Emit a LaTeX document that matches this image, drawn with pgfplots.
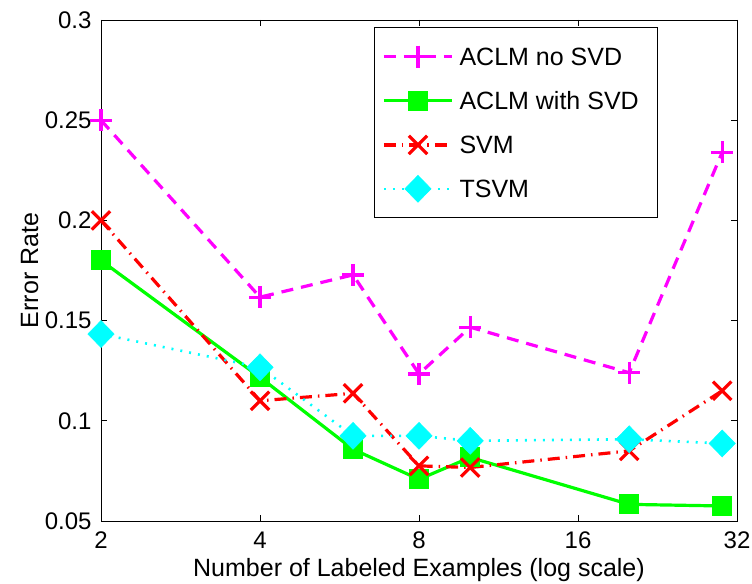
\documentclass[border=0pt]{standalone}
\usepackage{pgfplots}
\pgfplotsset{compat=1.18}
\usepackage{fontspec}
\setmainfont{Liberation Sans}
\definecolor{mmag}{RGB}{255,0,255}
\definecolor{mgreen}{RGB}{0,255,0}
\definecolor{mred}{RGB}{255,0,0}
\definecolor{mcyan}{RGB}{0,255,255}
\begin{document}
\fontsize{25bp}{29bp}\selectfont
\begin{tikzpicture}
\path[use as bounding box] (-101bp,-63bp) rectangle (651bp,521bp);
\begin{axis}[
  at={(0bp,0bp)}, anchor=south west,
  scale only axis, width=636bp, height=501bp,
  xmode=log, log basis x=2,
  xmin=2, xmax=32, ymin=0.05, ymax=0.3,
  xtick={2,4,8,16,32}, xticklabels={2,4,8,16,32},
  ytick={0.05,0.1,0.15,0.2,0.25,0.3},
  yticklabels={0.05,0.1,0.15,0.2,0.25,0.3},
  /pgf/number format/assume math mode=true,
  tick align=inside, major tick length=6bp,
  minor tick num=0, log ticks with fixed point,
  axis line style={line width=0.8bp},
  every tick/.style={black, line width=0.8bp},
  tick label style={font=\fontsize{24bp}{28bp}\selectfont},
  label style={font=\fontsize{25bp}{29bp}\selectfont},
  yticklabel style={xshift=-1bp},
  xticklabel style={yshift=-2bp},
  xlabel={Number of Labeled Examples (log scale)},
  ylabel={Error Rate},
  xlabel style={at={(axis description cs:0.5,-0.098)}, anchor=center},
  ylabel style={at={(axis description cs:-0.112,0.5)}, anchor=center, rotate=0},
  clip=false,
  legend cell align=left,
  legend style={at={(rel axis cs:0.4292,0.986)}, anchor=north west,
    draw=black, line width=0.8bp, inner xsep=8bp, inner ysep=17.5bp,
    row sep=21bp,
    font=\fontsize{25bp}{29bp}\selectfont,
    nodes={text height=18bp, text depth=0bp, inner ysep=0bp, inner xsep=6bp}},
  legend image code/.code={
    \draw[overlay,mark repeat=2,mark phase=2,#1] plot coordinates {(0bp,0bp) (34bp,0bp) (68bp,0bp)};
    \path (0bp,-10bp) (68bp,10bp);},
]
\addplot[mmag, line width=3.2bp, dash pattern=on 12bp off 8bp, mark=+, mark size=11bp,
  mark options={solid, line width=3.2bp}]
  coordinates {(2,0.25) (4,0.1617) (6,0.1728) (8,0.1234) (10,0.1467) (20,0.124) (30,0.234)};
\addlegendentry{ACLM no SVD}
\addplot[mgreen, line width=3.2bp, mark=square*, mark size=9.5bp,
  mark options={solid, line width=1bp, fill=mgreen}]
  coordinates {(2,0.18) (4,0.1217) (6,0.0858) (8,0.0708) (10,0.0817) (20,0.0583) (30,0.0575)};
\addlegendentry{ACLM with SVD\hspace*{5bp}}
\addplot[mred, line width=3.2bp, dash pattern=on 12bp off 6bp on 1.5bp off 6bp, mark=x, mark size=13bp,
  mark options={solid, line width=3.2bp}]
  coordinates {(2,0.2) (4,0.11) (6,0.1137) (8,0.0775) (10,0.0767) (20,0.085) (30,0.115)};
\addlegendentry{SVM}
\addplot[mcyan, line width=2.6bp, dash pattern=on 2bp off 7bp, mark=diamond*, mark size=13.5bp,
  mark options={solid, line width=0.5bp, fill=mcyan, xscale=1.3}]
  coordinates {(2,0.1433) (4,0.1267) (6,0.0925) (8,0.0925) (10,0.09) (20,0.0908) (30,0.0887)};
\addlegendentry{TSVM}
\end{axis}
\end{tikzpicture}
\end{document}
